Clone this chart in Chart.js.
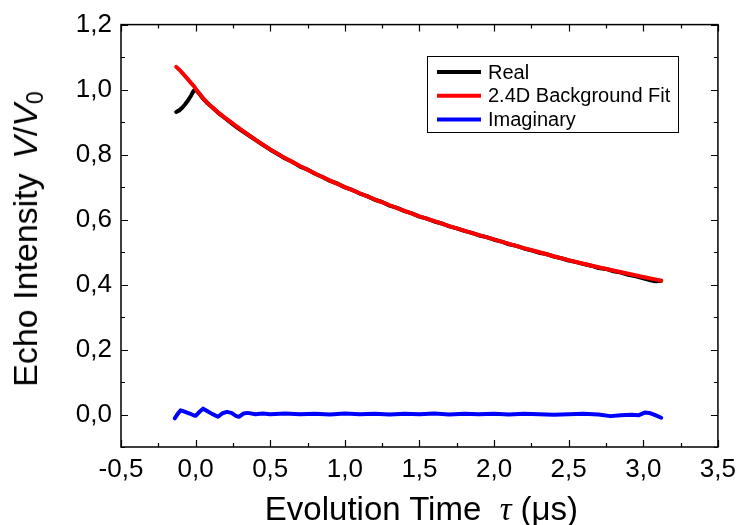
<!DOCTYPE html>
<html>
<head>
<meta charset="utf-8">
<script src="https://cdn.jsdelivr.net/npm/chart.js@4"></script>
<style>
    html, body { margin: 0; padding: 0; background: #fff; }
    #wrap { position: relative; width: 743px; height: 525px; }
    .title { position: absolute; font-family: "Liberation Sans", Arial, sans-serif; font-size: 33px; color: #000; white-space: nowrap; line-height: 1; }
    #xTitle { left: 0; width: 843px; top: 492px; text-align: center; }
    #yTitle { left: 8px; top: 239px; font-size: 34px; transform-origin: 0 0; transform: rotate(-90deg) translate(-50%, 0); }
    #yTitle .gap { margin-left: 5px; }
    .tau { font-family: "Liberation Serif", "Times New Roman", serif; font-style: italic; }
    sub { font-size: 0.68em; vertical-align: -0.25em; }
</style>
</head>
<body>
<div id="wrap">
    <canvas id="echoChart" width="743" height="525"></canvas>
    <div class="title" id="xTitle">Evolution Time&nbsp; <span class="tau">τ</span> (μs)</div>
    <div class="title" id="yTitle">Echo Intensity <span class="gap"></span><i>V</i>/<i>V</i><sub>0</sub></div>
</div>
<script>
// Real part of the echo
var timeReal = [-0.13, -0.11, -0.09, -0.07, -0.05, -0.03, -0.015, 0.00, 0.02, 0.05, 0.08, 0.12, 0.16, 0.20, 0.25,
    0.30, 0.35, 0.40, 0.45, 0.50, 0.55, 0.60, 0.65, 0.70, 0.75, 0.80, 0.85, 0.90, 0.95, 1.00,
    1.05, 1.10, 1.15, 1.20, 1.25, 1.30, 1.35, 1.40, 1.45, 1.50, 1.55, 1.60, 1.65, 1.70, 1.75,
    1.80, 1.85, 1.90, 1.95, 2.00, 2.05, 2.10, 2.15, 2.20, 2.25, 2.30, 2.35, 2.40, 2.45, 2.50,
    2.55, 2.60, 2.65, 2.70, 2.75, 2.80, 2.85, 2.90, 2.95, 3.00, 3.05, 3.08, 3.12];
var real = [0.931, 0.936, 0.944, 0.955, 0.967, 0.982, 0.995, 1.000, 0.990, 0.972, 0.958, 0.942, 0.925, 0.911, 0.893,
    0.876, 0.861, 0.845, 0.830, 0.815, 0.802, 0.788, 0.777, 0.763, 0.754, 0.741, 0.731, 0.719, 0.711, 0.699,
    0.691, 0.680, 0.672, 0.661, 0.654, 0.643, 0.636, 0.626, 0.619, 0.609, 0.603, 0.594, 0.588, 0.579, 0.573,
    0.565, 0.559, 0.551, 0.546, 0.538, 0.532, 0.524, 0.519, 0.511, 0.505, 0.498, 0.494, 0.486, 0.481, 0.474,
    0.469, 0.463, 0.458, 0.451, 0.448, 0.441, 0.437, 0.430, 0.425, 0.419, 0.413, 0.410, 0.412];

// 2.4D background fit
var timeFit = [-0.13, -0.10, -0.06, -0.03, -0.01, 0.00, 0.03, 0.06, 0.10, 0.15, 0.20, 0.30, 0.40, 0.50, 0.60,
    0.70, 0.80, 0.90, 1.00, 1.10, 1.20, 1.30, 1.40, 1.50, 1.60, 1.70, 1.80, 1.90, 2.00, 2.10,
    2.20, 2.30, 2.40, 2.50, 2.60, 2.70, 2.80, 2.90, 3.00, 3.12];
var fit = [1.070, 1.057, 1.036, 1.020, 1.010, 1.003, 0.985, 0.968, 0.950, 0.930, 0.912, 0.878, 0.846, 0.816, 0.789,
    0.765, 0.742, 0.720, 0.700, 0.681, 0.662, 0.644, 0.627, 0.610, 0.595, 0.580, 0.566, 0.552, 0.539, 0.525,
    0.512, 0.500, 0.487, 0.475, 0.464, 0.453, 0.443, 0.433, 0.423, 0.412];

// Imaginary part
var timeImag = [-0.14, -0.12, -0.10, -0.07, -0.04, -0.01, 0.00, 0.03, 0.05, 0.08, 0.11, 0.15, 0.18, 0.21, 0.24,
    0.27, 0.29, 0.32, 0.35, 0.40, 0.45, 0.50, 0.60, 0.70, 0.80, 0.90, 1.00, 1.10, 1.20, 1.30,
    1.40, 1.50, 1.60, 1.70, 1.80, 1.90, 2.00, 2.10, 2.20, 2.30, 2.40, 2.50, 2.60, 2.70, 2.78,
    2.85, 2.92, 2.97, 3.01, 3.04, 3.08, 3.12];
var imag = [-0.012, 0.002, 0.013, 0.008, 0.003, -0.003, -0.004, 0.010, 0.018, 0.010, 0.002, -0.007, 0.004, 0.008, 0.005,
    -0.004, -0.007, 0.003, 0.005, 0.001, 0.003, 0.001, 0.003, 0.001, 0.002, 0.000, 0.003, 0.001, 0.002, 0.000,
    0.002, 0.001, 0.003, 0.000, 0.002, 0.001, 0.002, 0.000, 0.002, 0.001, -0.001, 0.001, 0.002, 0.000, -0.005,
    -0.002, -0.001, -0.002, 0.006, 0.005, -0.002, -0.010];

// Axis ticks
var xTicks = [-0.5, 0.0, 0.5, 1.0, 1.5, 2.0, 2.5, 3.0, 3.5];
var yTicks = [0.0, 0.2, 0.4, 0.6, 0.8, 1.0, 1.2];
var xMinor = 0.25;
var yMinor = 0.1;

function toPoints(xs, ys) {
    return xs.map(function(x, i) { return { x: x, y: ys[i] }; });
}

function commaLabel(v) {
    return v.toFixed(1).replace('.', ',');
}

var FONT = '"Liberation Sans", Arial, sans-serif';

// Box, inward ticks on all four sides, legend inside the plot
var framePlugin = {
    id: 'frame',
    afterDraw: function(chart) {
        var ctx = chart.ctx;
        var a = chart.chartArea;
        var xs = chart.scales.x, ys = chart.scales.y;
        ctx.save();
        ctx.strokeStyle = '#000';
        ctx.lineWidth = 1.5;
        ctx.strokeRect(a.left, a.top, a.right - a.left, a.bottom - a.top);

        ctx.lineWidth = 1.2;
        ctx.beginPath();
        for (var v = xs.min; v <= xs.max + 1e-9; v += xMinor) {
            var px = Math.round(xs.getPixelForValue(v)) + 0.5;
            var len = Math.abs(v / 0.5 - Math.round(v / 0.5)) < 1e-6 ? 7 : 4;
            ctx.moveTo(px, a.bottom); ctx.lineTo(px, a.bottom - len);
            ctx.moveTo(px, a.top); ctx.lineTo(px, a.top + len);
        }
        for (var w = ys.min; w <= ys.max + 1e-9; w += yMinor) {
            var py = Math.round(ys.getPixelForValue(w)) + 0.5;
            var l2 = Math.abs(w / 0.2 - Math.round(w / 0.2)) < 1e-6 ? 7 : 4;
            ctx.moveTo(a.left, py); ctx.lineTo(a.left + l2, py);
            ctx.moveTo(a.right, py); ctx.lineTo(a.right - l2, py);
        }
        ctx.stroke();

        // legend
        var bx = 427, by = 56, bw = 251, bh = 76;
        ctx.fillStyle = '#fff';
        ctx.fillRect(bx, by, bw, bh);
        ctx.lineWidth = 1;
        ctx.strokeRect(bx + 0.5, by + 0.5, bw, bh);
        ctx.font = '20px ' + FONT;
        ctx.textBaseline = 'middle';
        chart.data.datasets.forEach(function(ds, i) {
            var ly = by + 16 + i * 23.8;
            ctx.strokeStyle = ds.borderColor;
            ctx.lineWidth = 4;
            ctx.beginPath();
            ctx.moveTo(bx + 10, ly); ctx.lineTo(bx + 54, ly);
            ctx.stroke();
            ctx.fillStyle = '#000';
            ctx.fillText(ds.label, bx + 61, ly + 1);
        });
        ctx.restore();
    }
};

var echoCtx = document.getElementById('echoChart').getContext('2d');
var echoChart = new Chart(echoCtx, {
    type: 'scatter',
    data: {
        datasets: [
            { label: 'Real', data: toPoints(timeReal, real), borderColor: '#000000', backgroundColor: '#000000', order: 2 },
            { label: '2.4D Background Fit', data: toPoints(timeFit, fit), borderColor: '#ff0000', backgroundColor: '#ff0000', order: 1 },
            { label: 'Imaginary', data: toPoints(timeImag, imag), borderColor: '#0000ff', backgroundColor: '#0000ff', order: 0 }
        ]
    },
    options: {
        responsive: false,
        animation: false,
        showLine: true,
        elements: {
            point: { radius: 0, hoverRadius: 0 },
            line: { borderWidth: 4, tension: 0, borderJoinStyle: 'round', borderCapStyle: 'round' }
        },
        layout: { padding: { left: 0, right: 20, top: 24, bottom: 0 } },
        plugins: { legend: { display: false }, tooltip: { enabled: false } },
        scales: {
            x: {
                type: 'linear', min: -0.5, max: 3.5,
                grid: { display: false, drawTicks: false },
                border: { display: false },
                afterBuildTicks: function(s) { s.ticks = xTicks.map(function(v) { return { value: v }; }); },
                afterFit: function(s) { s.height = 78; },
                ticks: { color: '#000', padding: 7, maxRotation: 0, font: { family: FONT, size: 26 }, callback: commaLabel }
            },
            y: {
                type: 'linear', min: -0.1, max: 1.2,
                grid: { display: false, drawTicks: false },
                border: { display: false },
                afterBuildTicks: function(s) { s.ticks = yTicks.map(function(v) { return { value: v }; }); },
                afterFit: function(s) { s.width = 121; },
                ticks: { color: '#000', padding: 9, font: { family: FONT, size: 26 }, callback: commaLabel }
            }
        }
    },
    plugins: [framePlugin]
});
</script>
</body>
</html>
